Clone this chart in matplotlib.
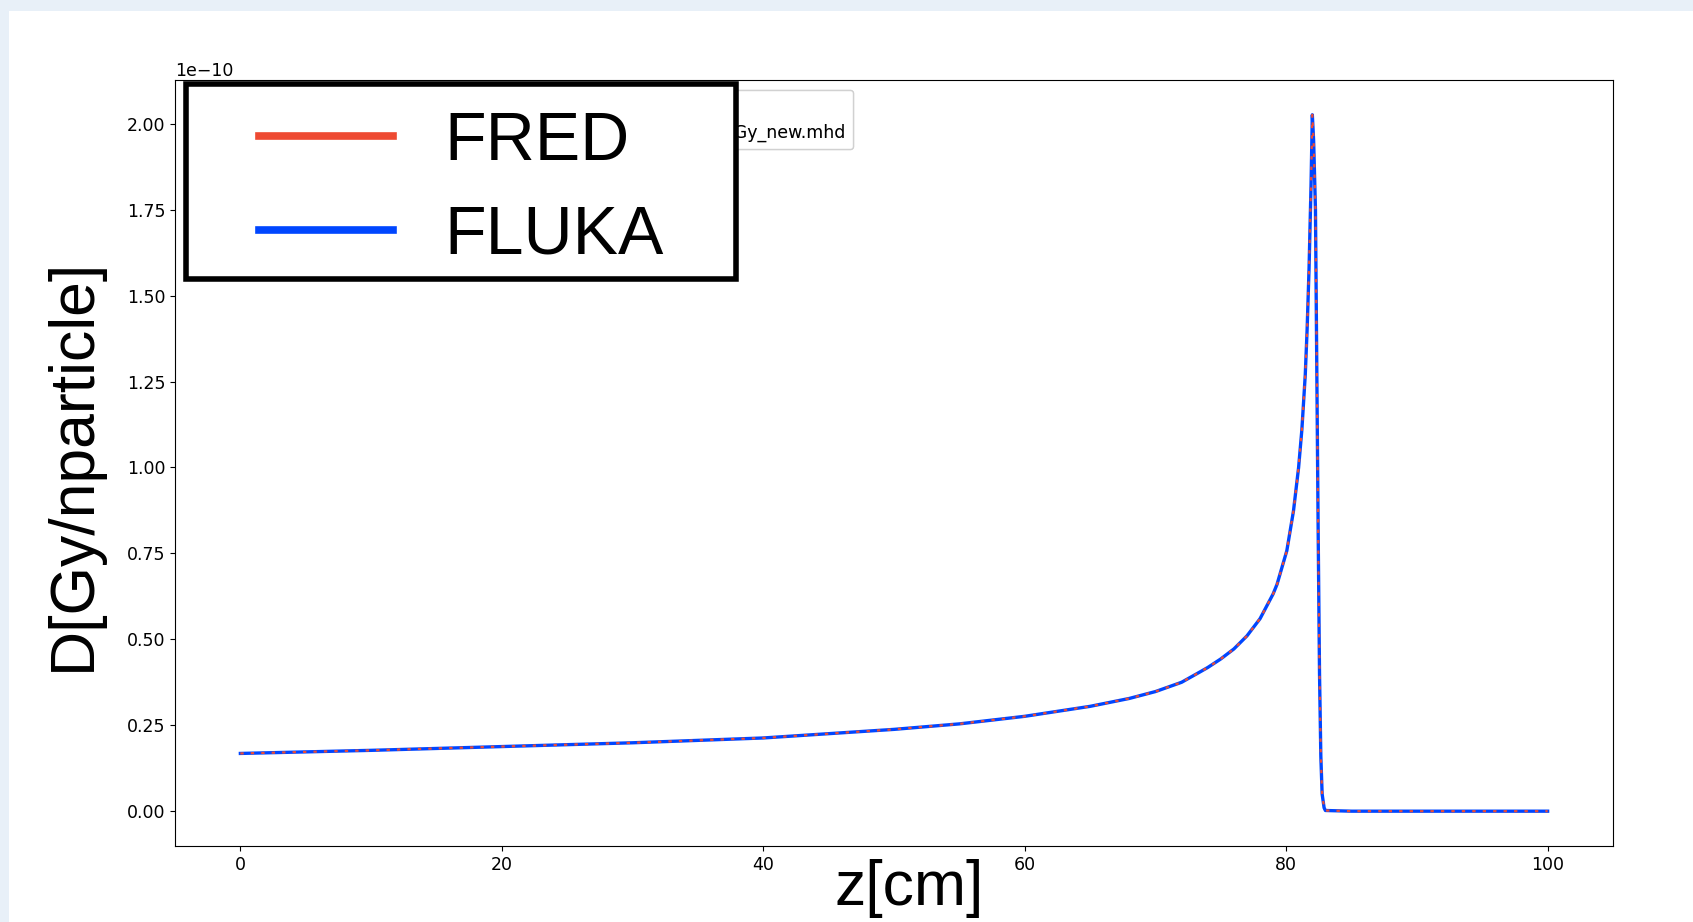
import matplotlib
matplotlib.use("Agg")
import matplotlib.pyplot as plt
from matplotlib.lines import Line2D
from matplotlib.patches import Rectangle

# ---- data, dose in units of 1e-10 Gy/nparticle ----
z_cm = [0, 10, 20, 30, 40, 50, 55, 60, 65, 68, 70, 72, 73.4, 74, 75, 76, 77,
        78, 79, 79.3, 80.05, 80.56, 80.95, 81.2, 81.46, 81.6, 81.75, 81.9,
        82.0, 82.1, 82.24, 82.35, 82.45, 82.55, 82.65, 82.75, 82.9, 83.0,
        85, 90, 95, 100]
fred_dose = [0.168, 0.177, 0.188, 0.199, 0.213, 0.238, 0.254, 0.276, 0.305,
             0.328, 0.348, 0.375, 0.405, 0.418, 0.443, 0.472, 0.510, 0.560,
             0.632, 0.660, 0.758, 0.874, 1.00, 1.11, 1.27, 1.40, 1.58, 1.82,
             2.026, 1.95, 1.75, 1.25, 0.80, 0.40, 0.16, 0.05, 0.01, 0.002,
             0.0, 0.0, 0.0, 0.0]
fluka_dose = [0.168, 0.177, 0.188, 0.199, 0.213, 0.238, 0.254, 0.276, 0.305,
              0.328, 0.348, 0.375, 0.405, 0.418, 0.443, 0.472, 0.510, 0.560,
              0.632, 0.660, 0.758, 0.874, 1.00, 1.11, 1.27, 1.40, 1.58, 1.82,
              2.026, 1.95, 1.75, 1.25, 0.80, 0.40, 0.16, 0.05, 0.01, 0.002,
              0.0, 0.0, 0.0, 0.0]
scale = 1e-10
series_labels = ["FRED", "FLUKA"]
bg_legend_labels = ["dose_Gy.mhd", "FLUKA_dose_Gy_new.mhd"]
xlabel = "z[cm]"
ylabel = "D[Gy/nparticle]"

RED = "#ee4a32"
BLUE = "#0046ff"

W, H = 1693, 922
fig = plt.figure(figsize=(W / 100, H / 100), dpi=100)
fig.patch.set_facecolor("#e8f0f8")
# slide panel
fig.patches.append(Rectangle((9 / W, 0), 1, 1 - 11 / H, transform=fig.transFigure,
                             facecolor="white", edgecolor="none", zorder=-1))

ax = fig.add_axes([175 / W, 1 - 846 / H, (1613 - 175) / W, (846 - 80) / H])
ax.set_facecolor("white")

fluka_y = [v * scale for v in fluka_dose]
fred_y = [v * scale for v in fred_dose]
l_fluka, = ax.plot(z_cm, fluka_y, color=BLUE, lw=2.4, solid_joinstyle="round")
l_fred, = ax.plot(z_cm, fred_y, color=RED, lw=1.6, dashes=(1.5, 3.2))

ax.set_xticks([0, 20, 40, 60, 80, 100])
ax.set_yticks([0, 0.25e-10, 0.5e-10, 0.75e-10, 1.0e-10, 1.25e-10, 1.5e-10, 1.75e-10, 2.0e-10])
ax.tick_params(labelsize=12.5)
ax.yaxis.get_offset_text().set_fontsize(12.5)

# original (background) matplotlib legend, mostly hidden
bg_leg = ax.legend([l_fred, l_fluka], bg_legend_labels, loc="upper right",
                   bbox_to_anchor=(853 / W, 1 - 90 / H), bbox_transform=fig.transFigure,
                   fontsize=12.5, borderaxespad=0)
ax.add_artist(bg_leg)

# overlaid big legend box
fig.patches.append(Rectangle((186 / W, 1 - 279 / H), (736 - 186) / W, (279 - 84) / H,
                             transform=fig.transFigure, facecolor="white",
                             edgecolor="black", linewidth=4, zorder=6))
h_red = Line2D([], [], color=RED, lw=5.5)
h_blue = Line2D([], [], color=BLUE, lw=5.5)
big = fig.legend([h_red, h_blue], series_labels, loc="upper left",
                 bbox_to_anchor=(259 / W, 1 - 110 / H), frameon=False,
                 prop={"family": ["Liberation Sans", "DejaVu Sans"], "size": 49},
                 handlelength=1.97, handletextpad=0.76, labelspacing=0.44,
                 borderpad=0, borderaxespad=0)
big.set_zorder(7)

# big axis labels (slide overlay text)
fig.text(909 / W, 1 - 888 / H, xlabel, ha="center", va="center",
         family=["Liberation Sans", "DejaVu Sans"], fontsize=45)
fig.text(73 / W, 1 - 464 / H, ylabel, ha="center", va="center", rotation=90,
         family=["Liberation Sans", "DejaVu Sans"], fontsize=45)

fig.savefig("out.png", dpi=100, facecolor=fig.get_facecolor())
